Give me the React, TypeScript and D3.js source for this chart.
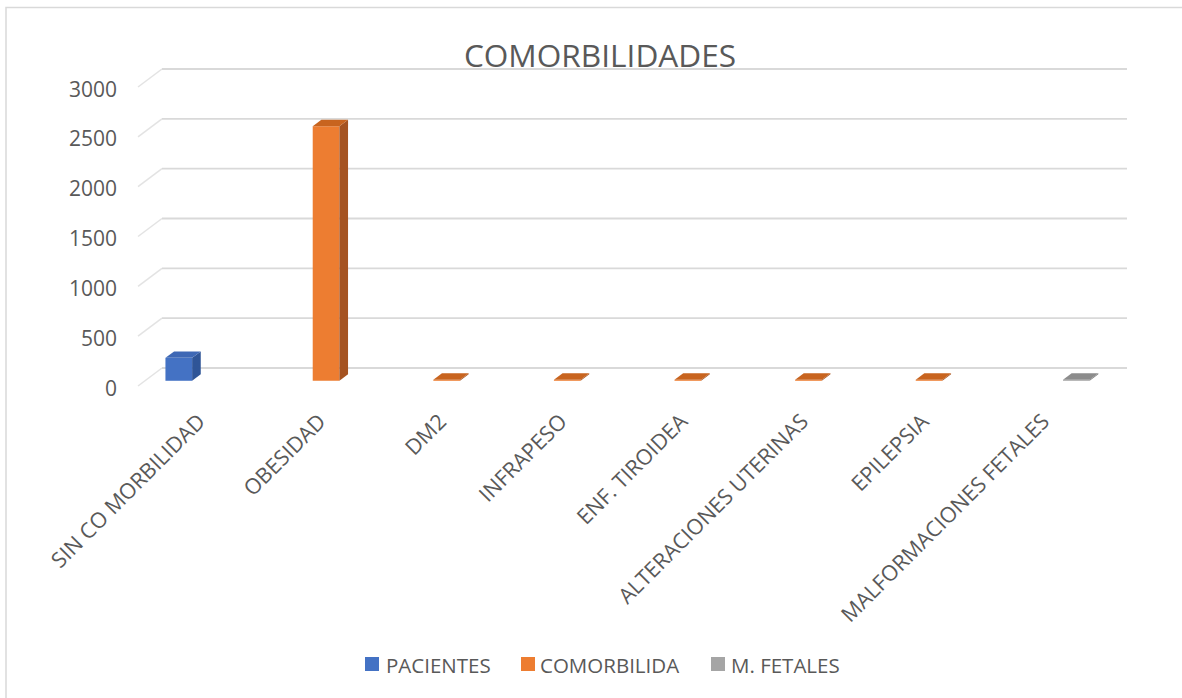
import React from "react";
import * as d3 from "d3";

const categories = [
  "SIN CO MORBILIDAD",
  "OBESIDAD",
  "DM2",
  "INFRAPESO",
  "ENF. TIROIDEA",
  "ALTERACIONES UTERINAS",
  "EPILEPSIA",
  "MALFORMACIONES FETALES",
];
const seriesNames = ["PACIENTES", "COMORBILIDA", "M. FETALES"];
const pacientes: (number | null)[] = [230, null, null, null, null, null, null, null];
const comorbilida: (number | null)[] = [null, 2555, 10, 10, 10, 10, 10, null];
const fetales: (number | null)[] = [null, null, null, null, null, null, null, 10];
const yTicks = [0, 500, 1000, 1500, 2000, 2500, 3000];

const seriesValues = [pacientes, comorbilida, fetales];
const frontColors = ["#4472c4", "#ed7d31", "#a5a5a5"];
const topColors = ["#3e68b5", "#c8641f", "#8c8c8c"];
const sideColors = ["#2f5597", "#a55321", "#7b7b7b"];

const W = 1182;
const H = 698;
const FONT = "'Open Sans', 'DejaVu Sans', sans-serif";
const TXT = "#595959";
const DX = 24; // full floor depth offset
const DY = -18;
const T0 = 0.29;
const T1 = 0.65;

export default function App() {
  const x = d3.scaleBand<string>().domain(categories).range([138.2, 1103]).paddingInner(0).paddingOuter(0);
  const xs = d3.scaleBand<string>().domain(seriesNames).range([0, x.bandwidth()]).paddingInner(0).paddingOuter(0.76);
  const y = d3.scaleLinear().domain([0, 3000]).range([386, 87]);

  const proj = (px: number, v: number, t: number): [number, number] => [px + DX * t, y(v) + DY * t];
  const poly = (pts: [number, number][]) => pts.map((p) => p.join(",")).join(" ");

  const bars: JSX.Element[] = [];
  seriesValues.forEach((vals, si) => {
    vals.forEach((v, ci) => {
      if (v === null) return;
      const x0 = (x(categories[ci]) as number) + (xs(seriesNames[si]) as number);
      const x1 = x0 + xs.bandwidth();
      const fbl = proj(x0, 0, T0);
      const fbr = proj(x1, 0, T0);
      const ftl = proj(x0, v, T0);
      const ftr = proj(x1, v, T0);
      const btl = proj(x0, v, T1);
      const btr = proj(x1, v, T1);
      const bbr = proj(x1, 0, T1);
      bars.push(
        <g key={`b${si}-${ci}`}>
          <polygon points={poly([fbl, fbr, ftr, ftl])} fill={frontColors[si]} />
          <polygon points={poly([fbr, bbr, btr, ftr])} fill={sideColors[si]} />
          <polygon points={poly([ftl, ftr, btr, btl])} fill={topColors[si]} />
        </g>
      );
    });
  });

  const legendItems = [
    { name: seriesNames[0], sx: 365, tx: 386 },
    { name: seriesNames[1], sx: 521, tx: 540 },
    { name: seriesNames[2], sx: 711, tx: 731 },
  ];

  return (
    <svg width={W} height={H} style={{ position: "absolute", left: 0, top: 0, background: "#fff" }}>
      <rect x={0} y={0} width={W} height={H} fill="#fff" />
      <rect x={6} y={7.5} width={1300} height={900} fill="none" stroke="#d9d9d9" strokeWidth={1.5} />
      <text x={600} y={54} textAnchor="middle" dominantBaseline="central" fontFamily={FONT} fontSize={31.6} fill={TXT}>
        COMORBILIDADES
      </text>
      {yTicks.map((t) => {
        const yf = y(t);
        return (
          <g key={`g${t}`}>
            <line x1={138} y1={yf} x2={138 + DX} y2={yf + DY} stroke="#e3e3e3" strokeWidth={1.5} />
            <line x1={138 + DX} y1={yf + DY} x2={1127} y2={yf + DY} stroke="#d9d9d9" strokeWidth={1.8} />
            <text x={117} y={yf + 1.5} textAnchor="end" dominantBaseline="central" fontFamily={FONT} fontSize={21} fill={TXT}>
              {t}
            </text>
          </g>
        );
      })}
      {bars}
      {categories.map((c) => {
        const cx = (x(c) as number) + x.bandwidth() / 2 + 8;
        const cy = 423;
        return (
          <text
            key={c}
            x={cx}
            y={cy}
            transform={`rotate(-45 ${cx} ${cy})`}
            textAnchor="end"
            fontFamily={FONT}
            fontSize={21.5}
            fill={TXT}
          >
            {c}
          </text>
        );
      })}
      {legendItems.map((l, i) => (
        <g key={l.name}>
          <rect x={l.sx} y={657} width={14} height={14} fill={frontColors[i]} />
          <text x={l.tx} y={664.5} dominantBaseline="central" fontFamily={FONT} fontSize={20.5} fill={TXT}>
            {l.name}
          </text>
        </g>
      ))}
    </svg>
  );
}
